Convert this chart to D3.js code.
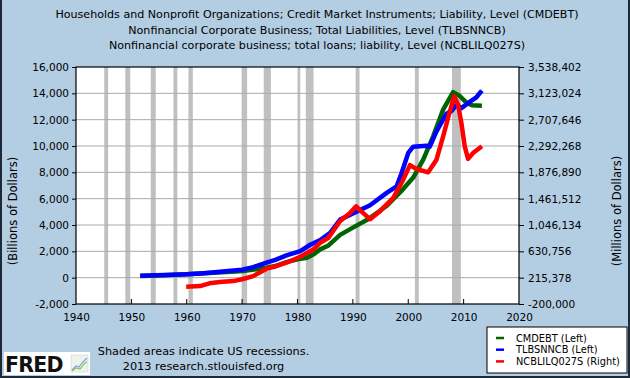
<!DOCTYPE html>
<html><head><meta charset="utf-8">
<script src="https://cdn.jsdelivr.net/npm/d3@7"></script>
<style>html,body{margin:0;padding:0;background:#B3CDE3;} svg{display:block;font-family:"DejaVu Sans",Verdana,sans-serif;}</style>
</head><body>
<svg id="c" width="630" height="378"></svg>
<script>
const titles = [
  "Households and Nonprofit Organizations; Credit Market Instruments; Liability, Level (CMDEBT)",
  "Nonfinancial Corporate Business; Total Liabilities, Level (TLBSNNCB)",
  "Nonfinancial corporate business; total loans; liability, Level (NCBLILQ027S)"
];
const xTicks = [1940,1950,1960,1970,1980,1990,2000,2010,2020];
const leftTicks = [-2000,0,2000,4000,6000,8000,10000,12000,14000,16000];
const rightTicks = [-200000,215378,630756,1046134,1461512,1876890,2292268,2707646,3123024,3538402];
const recessions = [[1945.1,1945.8],[1948.9,1949.8],[1953.5,1954.4],[1957.6,1958.3],[1960.3,1961.1],
  [1969.9,1970.9],[1973.9,1975.2],[1980.0,1980.5],[1981.5,1982.9],[1990.5,1991.2],[2001.2,2001.9],[2007.9,2009.5]];
// CMDEBT (Billions, left)
const cmdebt = [[1951.6,130],[1956,190],[1960,260],[1964,360],[1968,450],[1970.2,500],[1972.5,640],[1974.4,760],
  [1976,880],[1978,1185],[1980,1400],[1981.7,1515],[1983,1800],[1984.1,2150],[1985.6,2450],[1987.7,3250],[1990,3800],
  [1993,4500],[1996,5420],[1999,6690],[2000.9,7600],[2002.7,8960],[2004.5,10730],[2006.3,12760],[2008.1,14090],
  [2009.3,13800],[2010.6,13250],[2011.5,13100],[2013.3,13050]];
// TLBSNNCB (Billions, left)
const tlbsnncb = [[1951.6,150],[1956,200],[1960,260],[1962.4,325],[1964.1,380],[1966,450],[1968,530],[1970,600],
  [1972,800],[1974.4,1135],[1976,1350],[1978,1690],[1980.5,2015],[1982.3,2500],[1984.1,2850],[1985.9,3400],
  [1987.7,4410],[1990.1,4900],[1993.1,5500],[1996.1,6440],[1997.9,6940],[1998.8,7950],[2000,9470],[2000.9,9950],
  [2003.3,10020],[2003.9,9950],[2005.1,11110],[2006.9,12450],[2007.8,12650],[2008.7,13130],[2009.6,12880],
  [2011.1,13350],[2012.3,13700],[2013.3,14210]];
// NCBLILQ027S (Millions, right)
const ncbliq = [[1959.9,74000],[1962.4,82000],[1964.1,126000],[1966,147000],[1968.4,161000],[1970,190000],
  [1972,240000],[1974.4,357000],[1976,392000],[1978,451000],[1980.5,546000],[1982.9,661000],[1984.1,766000],
  [1985.6,845000],[1987.7,1108000],[1989.5,1237000],[1990.6,1341000],[1991.2,1285000],[1993.1,1138000],
  [1994.9,1264000],[1997.3,1474000],[1999.1,1763000],[2000.3,1991000],[2001.5,1929000],[2003.6,1877000],
  [2005.1,2076000],[2006.3,2444000],[2007.5,2836000],[2008.3,3073000],[2009,2942000],[2009.6,2654000],
  [2010.2,2286000],[2010.8,2089000],[2011.7,2182000],[2013.3,2288000]];
const seriesNames = ["CMDEBT (Left)","TLBSNNCB (Left)","NCBLILQ027S (Right)"];
const seriesColors = ["#006400","#0000FF","#FF0000"];

const svg = d3.select("#c");
const W=630,H=378, L=76, R=519, T=67, B=304;
svg.append("rect").attr("width",W).attr("height",H).attr("fill","#B3CDE3");

const x = d3.scaleLinear().domain([1940,2020]).range([L,R]);
const yL = d3.scaleLinear().domain([-2000,16000]).range([B,T]);
const yR = d3.scaleLinear().domain([-200000,3538402]).range([B,T]);
const fmt = v => d3.format(",")(v).replace("\u2212","-");

// titles
svg.selectAll("text.title").data(titles).join("text").attr("class","title")
  .attr("x",W/2+2).attr("y",(d,i)=>18+i*15.5).attr("text-anchor","middle")
  .attr("font-size",11.1).attr("fill","#000").text(d=>d);

// plot background
svg.append("rect").attr("x",L).attr("y",T).attr("width",R-L).attr("height",B-T).attr("fill","#fff");
// recessions
svg.selectAll("rect.rec").data(recessions).join("rect").attr("class","rec")
  .attr("x",d=>x(d[0])).attr("width",d=>x(d[1])-x(d[0])).attr("y",T).attr("height",B-T).attr("fill","#C0C0C0");
// gridlines
svg.selectAll("line.grid").data(leftTicks.slice(1,-1)).join("line").attr("class","grid")
  .attr("x1",L).attr("x2",R).attr("y1",d=>yL(d)).attr("y2",d=>yL(d)).attr("stroke","#AAAAAA").attr("stroke-width",1);

// axes
const axL = d3.axisLeft(yL).tickValues(leftTicks).tickSize(4).tickPadding(3).tickFormat(fmt);
const axR = d3.axisRight(yR).tickValues(rightTicks).tickSize(5).tickPadding(4).tickFormat(fmt);
const axB = d3.axisBottom(x).tickValues(xTicks).tickSize(0).tickPadding(10).tickFormat(d3.format("d"));
const gL = svg.append("g").attr("transform",`translate(${L},0)`).call(axL);
const gR = svg.append("g").attr("transform",`translate(${R},0)`).call(axR);
const gB = svg.append("g").attr("transform",`translate(0,${B})`).call(axB);
[gL,gR,gB].forEach(g=>{
  g.select(".domain").remove();
  g.selectAll("text").attr("font-size",10.5).attr("fill","#000").attr("font-family","DejaVu Sans");
  g.selectAll("line").attr("stroke","#000");
});
// inner x ticks
svg.selectAll("line.xt").data(xTicks.slice(1,-1)).join("line").attr("class","xt")
  .attr("x1",d=>x(d)).attr("x2",d=>x(d)).attr("y1",B).attr("y2",B-5).attr("stroke","#000");

// series
const lineL = d3.line().x(d=>x(d[0])).y(d=>yL(d[1]));
const lineR = d3.line().x(d=>x(d[0])).y(d=>yR(d[1]));
const plot = svg.append("g");
plot.append("path").datum(cmdebt).attr("d",lineL).attr("fill","none").attr("stroke",seriesColors[0]).attr("stroke-width",4.5).attr("stroke-linejoin","round");
plot.append("path").datum(tlbsnncb).attr("d",lineL).attr("fill","none").attr("stroke",seriesColors[1]).attr("stroke-width",4.5).attr("stroke-linejoin","round");
plot.append("path").datum(ncbliq).attr("d",lineR).attr("fill","none").attr("stroke",seriesColors[2]).attr("stroke-width",4.5).attr("stroke-linejoin","round");

// plot border
svg.append("rect").attr("x",L).attr("y",T).attr("width",R-L).attr("height",B-T).attr("fill","none").attr("stroke","#000").attr("stroke-width",1.2);

// axis titles
svg.append("text").attr("transform","translate(17,211) rotate(-90)").attr("text-anchor","middle")
  .attr("font-size",11.5).text("(Billions of Dollars)");
svg.append("text").attr("transform","translate(621,211) rotate(-90)").attr("text-anchor","middle")
  .attr("font-size",11.5).text("(Millions of Dollars)");

// legend
const lg = svg.append("g");
lg.append("rect").attr("x",487).attr("y",327).attr("width",140).attr("height",46).attr("fill","#fff").attr("stroke","#000").attr("stroke-width",1);
seriesNames.forEach((n,i)=>{
  const yy = 338+i*11.7;
  lg.append("line").attr("x1",496).attr("x2",504).attr("y1",yy).attr("y2",yy).attr("stroke",seriesColors[i]).attr("stroke-width",2.5);
  lg.append("text").attr("x",516).attr("y",yy+3.5).attr("font-size",9.8).text(n);
});

// footer
svg.append("text").attr("x",203.5).attr("y",355).attr("text-anchor","middle").attr("font-size",11.3).text("Shaded areas indicate US recessions.");
svg.append("text").attr("x",203.5).attr("y",370).attr("text-anchor","middle").attr("font-size",11.3).text("2013 research.stlouisfed.org");

// FRED logo
svg.append("rect").attr("x",4).attr("y",352).attr("width",86).attr("height",23).attr("fill","#fff");
svg.append("text").attr("x",5).attr("y",371.5).attr("font-size",20.5).attr("font-weight","bold").attr("font-family","DejaVu Sans").attr("letter-spacing",-0.8).attr("fill","#111").text("FRED");
const ic = svg.append("g");
ic.append("rect").attr("x",71).attr("y",355).attr("width",17).attr("height",17).attr("fill","#eef3ee").attr("stroke","#ccc").attr("stroke-width",0.5);
ic.append("path").attr("d","M72,370 L76,366 L79,367 L83,362 L87,358").attr("fill","none").attr("stroke","#7aa6d6").attr("stroke-width",1.2);
ic.append("path").attr("d","M72,371 L76,368 L80,369 L84,364 L87,362").attr("fill","none").attr("stroke","#8cbf5a").attr("stroke-width",1.2);

// outer border
svg.append("path").attr("d",`M1,0 V${H-1} H${W-1} V0`).attr("fill","none").attr("stroke","#1c2a38").attr("stroke-width",2);
</script>
</body></html>
